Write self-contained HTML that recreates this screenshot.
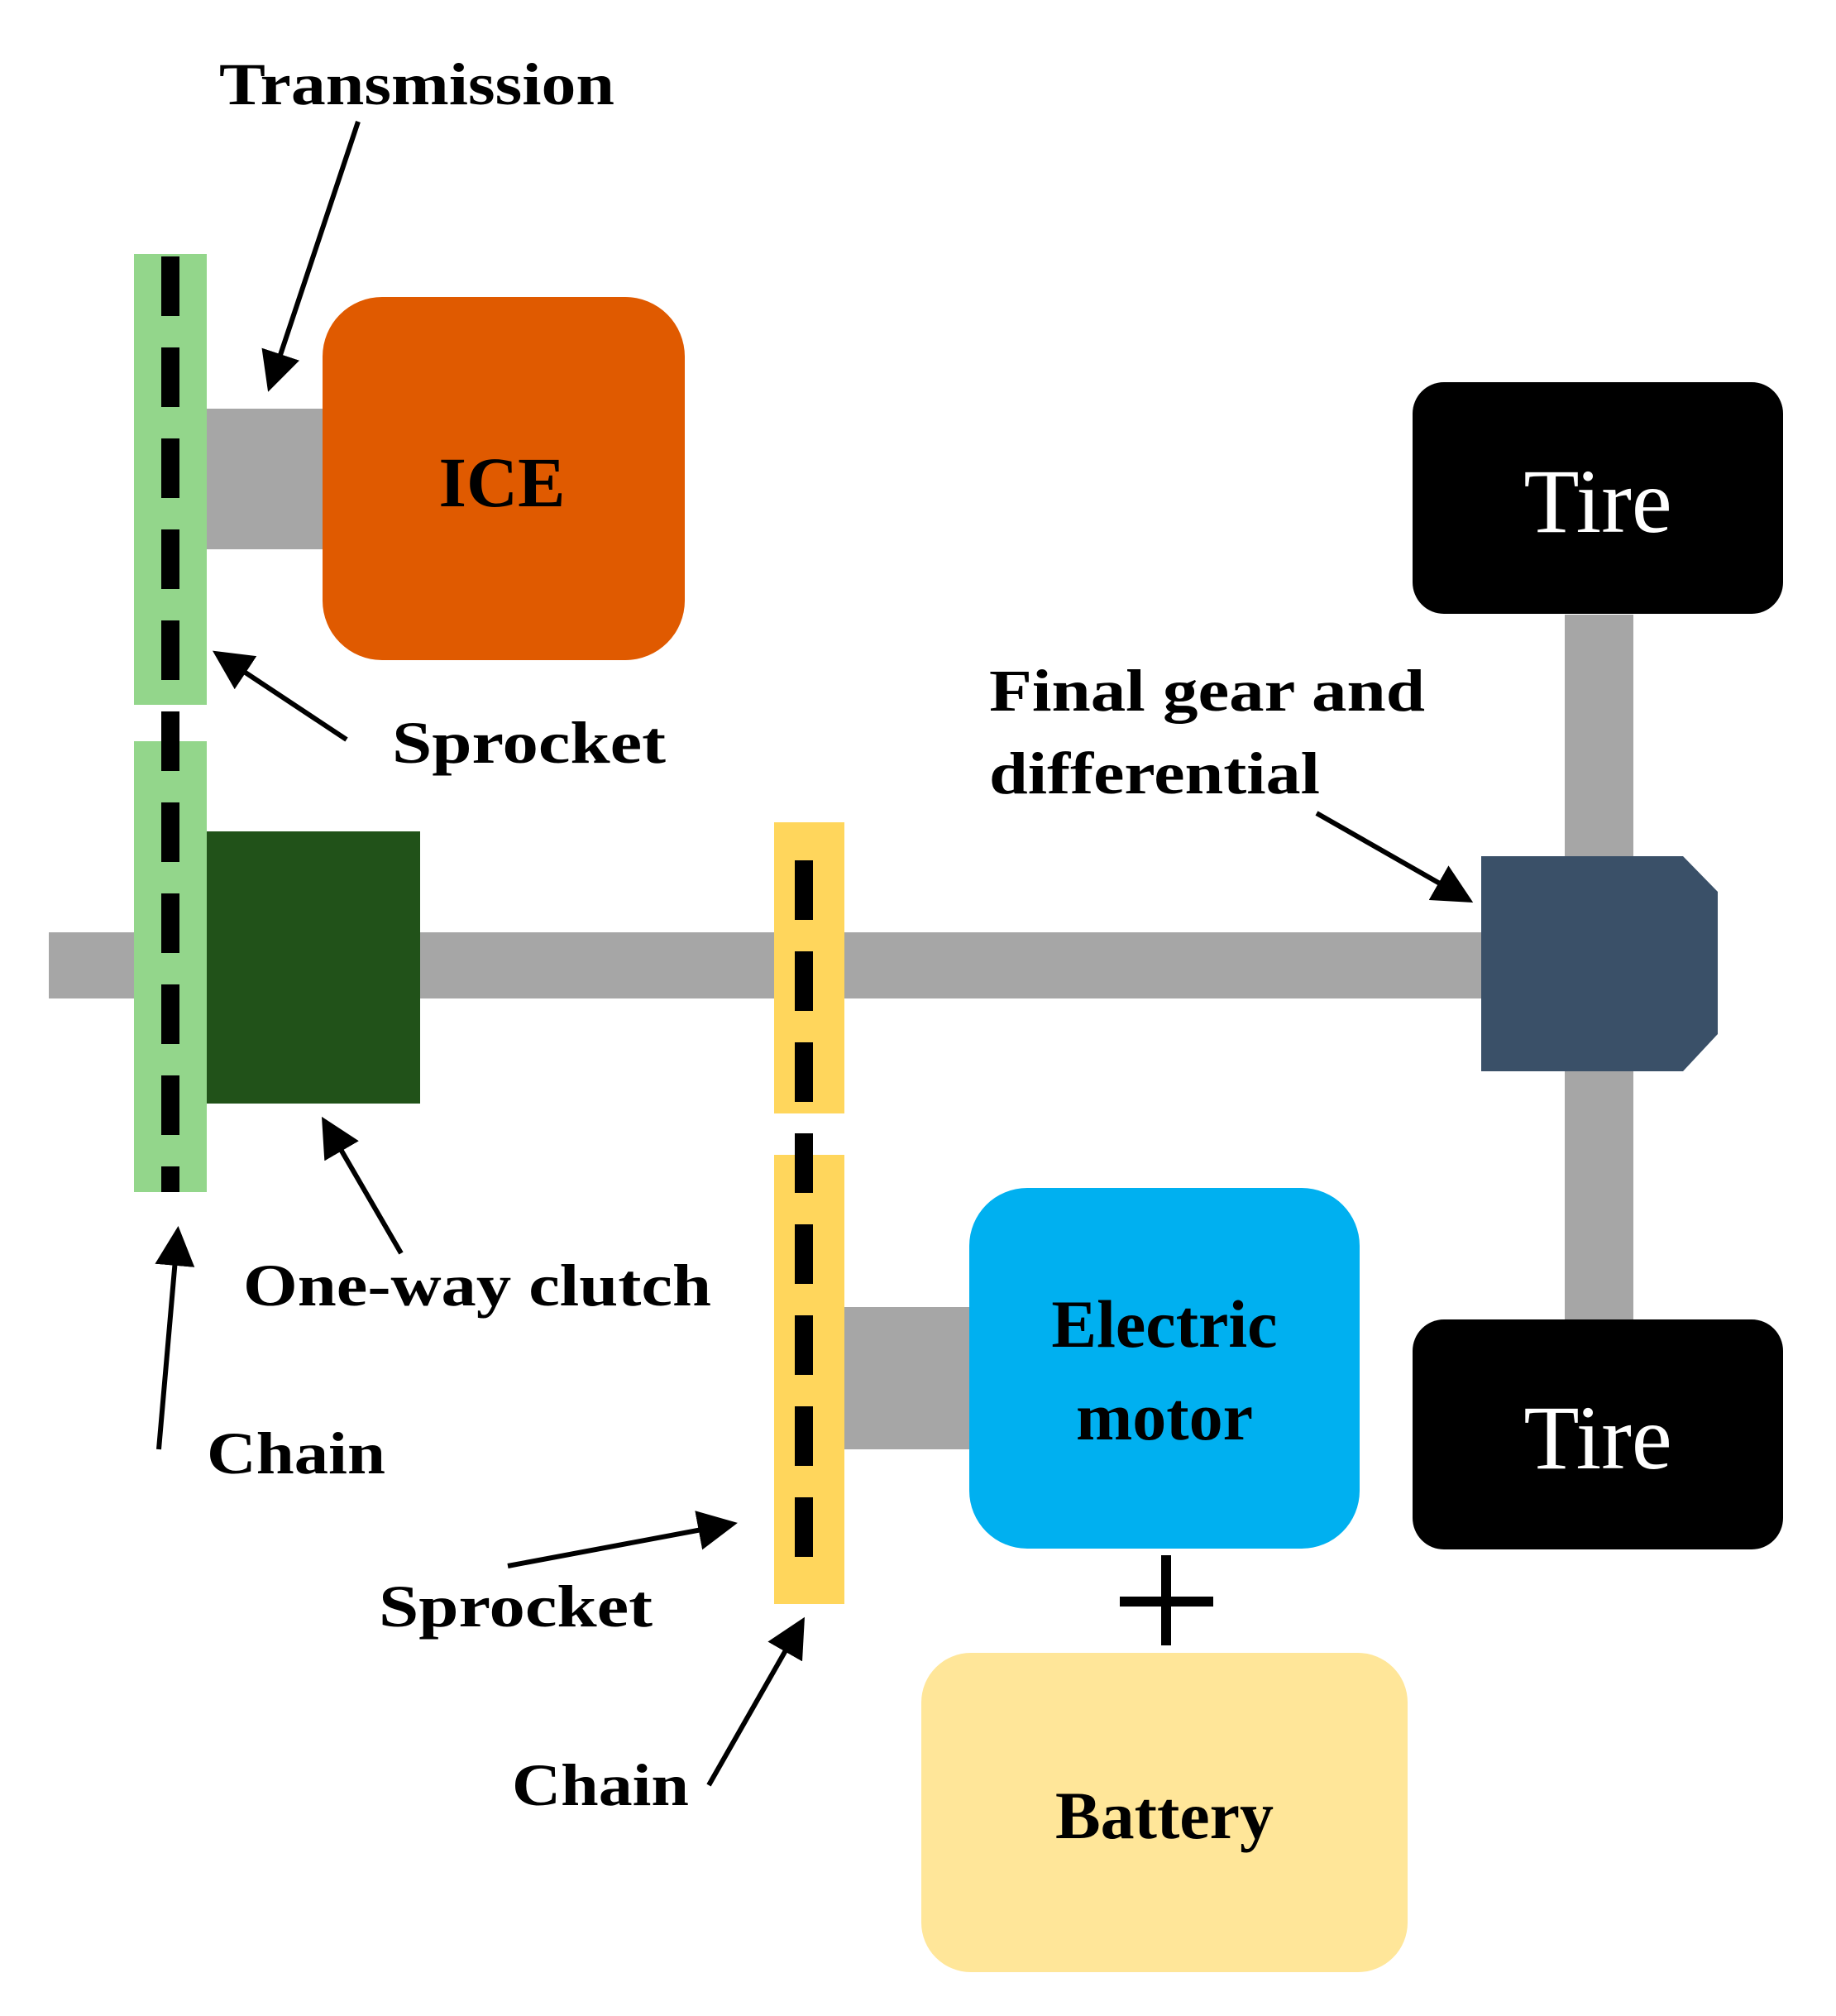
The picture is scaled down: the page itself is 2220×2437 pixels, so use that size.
<!DOCTYPE html>
<html><head><meta charset="utf-8"><style>
html,body{margin:0;padding:0;background:#fff}
svg{display:block}
text{font-family:"Liberation Serif",serif;font-weight:bold;fill:#000}
</style></head><body>
<svg width="2220" height="2437" viewBox="0 0 2220 2437" xmlns="http://www.w3.org/2000/svg">
<defs>
<marker id="ah" markerWidth="8" markerHeight="8" refX="7" refY="4" orient="auto" markerUnits="strokeWidth">
<path d="M0,0 L8,4 L0,8 Z" fill="#000"/>
</marker>
</defs>
<rect x="59" y="1127" width="1750" height="80" fill="#a6a6a6"/>
<rect x="1892" y="743" width="83" height="860" fill="#a6a6a6"/>
<rect x="238" y="494" width="155" height="170" fill="#a6a6a6"/>
<rect x="1020" y="1580" width="155" height="172" fill="#a6a6a6"/>
<rect x="162" y="307" width="88" height="545" fill="#93d68b"/>
<rect x="162" y="896" width="88" height="545" fill="#93d68b"/>
<line x1="206" y1="310" x2="206" y2="1441" stroke="#000" stroke-width="22" stroke-dasharray="72,38"/>
<rect x="250" y="1005" width="258" height="329" fill="#215219"/>
<rect x="936" y="994" width="85" height="352" fill="#ffd65c"/>
<rect x="936" y="1396" width="85" height="543" fill="#ffd65c"/>
<line x1="972" y1="1040" x2="972" y2="1918" stroke="#000" stroke-width="22" stroke-dasharray="72,38"/>
<rect x="390" y="359" width="438" height="439" rx="72" fill="#e05a00"/>
<text x="607" y="612" font-size="86" text-anchor="middle">ICE</text>
<polygon points="1791,1035 2035,1035 2077,1078 2077,1250 2035,1295 1791,1295" fill="#3a5068"/>
<rect x="1708" y="462" width="448" height="280" rx="38" fill="#000"/>
<rect x="1708" y="1595" width="448" height="278" rx="38" fill="#000"/>
<text x="1932" y="643" font-size="110" text-anchor="middle" style="fill:#fff;font-weight:normal">Tire</text>
<text x="1932" y="1775" font-size="110" text-anchor="middle" style="fill:#fff;font-weight:normal">Tire</text>
<rect x="1172" y="1436" width="472" height="436" rx="70" fill="#00b0f0"/>
<text x="1408" y="1628" font-size="82" text-anchor="middle">Electric</text>
<text x="1408" y="1740" font-size="82" text-anchor="middle">motor</text>
<rect x="1354" y="1930" width="113" height="12" fill="#000"/>
<rect x="1404" y="1880" width="12" height="109" fill="#000"/>
<rect x="1114" y="1998" width="588" height="386" rx="60" fill="#ffe699"/>
<text x="1408" y="2222" font-size="82" text-anchor="middle">Battery</text>
<text x="265" y="126" font-size="72" textLength="478" lengthAdjust="spacingAndGlyphs">Transmission</text>
<text x="474" y="922" font-size="72" textLength="331" lengthAdjust="spacingAndGlyphs">Sprocket</text>
<text x="1196" y="859" font-size="72" textLength="527" lengthAdjust="spacingAndGlyphs">Final gear and</text>
<text x="1196" y="959" font-size="72" textLength="400" lengthAdjust="spacingAndGlyphs">differential</text>
<text x="294" y="1578" font-size="72" textLength="566" lengthAdjust="spacingAndGlyphs">One-way clutch</text>
<text x="250" y="1781" font-size="72" textLength="216" lengthAdjust="spacingAndGlyphs">Chain</text>
<text x="458" y="1966" font-size="72" textLength="331" lengthAdjust="spacingAndGlyphs">Sprocket</text>
<text x="619" y="2182" font-size="72" textLength="214" lengthAdjust="spacingAndGlyphs">Chain</text>
<g stroke="#000" stroke-width="6" fill="none" marker-end="url(#ah)">
<line x1="433" y1="147" x2="326" y2="468"/>
<line x1="419" y1="894" x2="262" y2="790"/>
<line x1="1592" y1="983" x2="1776" y2="1088"/>
<line x1="485" y1="1515" x2="392" y2="1355"/>
<line x1="192" y1="1752" x2="215" y2="1488"/>
<line x1="614" y1="1893" x2="886" y2="1842"/>
<line x1="857" y1="2158" x2="970" y2="1960"/>
</g>
</svg>
</body></html>
